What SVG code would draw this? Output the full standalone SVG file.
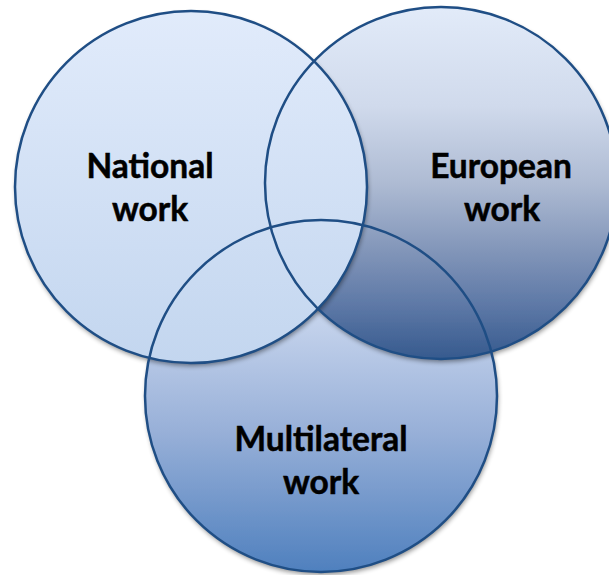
<svg xmlns="http://www.w3.org/2000/svg" width="609" height="575" viewBox="0 0 609 575">
<defs>
<linearGradient id="gN" x1="0" y1="0" x2="0" y2="1">
<stop offset="0" stop-color="#e1ebfb"/>
<stop offset="1" stop-color="#c3d6ef"/>
</linearGradient>
<linearGradient id="gE" x1="0" y1="0" x2="0" y2="1">
<stop offset="0" stop-color="#e2ebf9"/>
<stop offset="0.28" stop-color="#d0daec"/>
<stop offset="0.5" stop-color="#aebbd3"/>
<stop offset="0.7" stop-color="#8094b8"/>
<stop offset="0.85" stop-color="#5d78a6"/>
<stop offset="1" stop-color="#365a8e"/>
</linearGradient>
<linearGradient id="gM" x1="0" y1="0" x2="0" y2="1">
<stop offset="0" stop-color="#d8e2f3"/>
<stop offset="0.3" stop-color="#c2d1eb"/>
<stop offset="0.6" stop-color="#98b0d8"/>
<stop offset="1" stop-color="#4f80be"/>
</linearGradient>
<filter id="sh" x="-10%" y="-10%" width="120%" height="120%">
<feGaussianBlur in="SourceAlpha" stdDeviation="2.5"/>
<feOffset dx="1" dy="3" result="b"/>
<feComponentTransfer><feFuncA type="linear" slope="0.45"/></feComponentTransfer>
<feMerge><feMergeNode/><feMergeNode in="SourceGraphic"/></feMerge>
</filter>
<style>
.fill{stroke:none;filter:url(#sh)}
.ol{fill:none;stroke:#1f4e85;stroke-width:2.5}
.lbl{font-family:Lato,"Open Sans","Liberation Sans",sans-serif;font-weight:bold;font-size:33.5px;fill:#000;stroke:#000;stroke-width:0.5;text-anchor:middle}
</style>
</defs>
<g id="multilateral">
<circle class="fill" cx="321" cy="396" r="176" fill="url(#gM)"/>
</g>
<g id="european">
<circle class="fill" cx="441" cy="183" r="176" fill="url(#gE)"/>
</g>
<g id="national">
<circle class="fill" cx="191" cy="187" r="176" fill="url(#gN)"/>
</g>
<g id="outlines">
<circle class="ol" cx="321" cy="396" r="176"/>
<circle class="ol" cx="441" cy="183" r="176"/>
<circle class="ol" cx="191" cy="187" r="176"/>
</g>
<g id="labels">
<text class="lbl" x="150" y="178">National</text>
<text class="lbl" x="150" y="221">work</text>
<text class="lbl" x="501" y="178">European</text>
<text class="lbl" x="502" y="221">work</text>
<text class="lbl" x="321" y="451">Multilateral</text>
<text class="lbl" x="321" y="494">work</text>
</g>
</svg>
